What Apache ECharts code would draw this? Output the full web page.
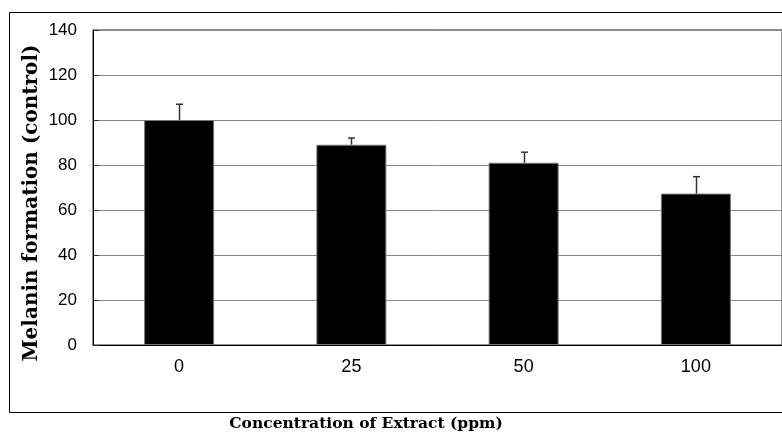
<!DOCTYPE html>
<html>
<head>
<meta charset="utf-8">
<script src="https://cdn.jsdelivr.net/npm/echarts@6/dist/echarts.min.js"></script>
<style>html,body{margin:0;padding:0;background:#fff}#c{width:782px;height:434px}</style>
</head>
<body>
<div id="c"></div>
<script>
const categories = ['0', '25', '50', '100'];
const values = [100, 89, 81, 67.3];
const errors = [7, 3, 4.7, 7.5];
const yTicks = { min: 0, max: 140, interval: 20 };
const yTitle = 'Melanin formation (control)';
const xTitle = 'Concentration of Extract (ppm)';

const chart = echarts.init(document.getElementById('c'));
chart.setOption({
  animation: false,
  backgroundColor: '#fff',
  grid: { left: 93, top: 30, width: 691, height: 315, show: true, borderColor: '#222', borderWidth: 1, containLabel: false },
  xAxis: {
    type: 'category', data: categories,
    axisLine: { lineStyle: { color: '#000', width: 1 } },
    axisTick: { inside: true, length: 5, lineStyle: { color: '#444' } },
    axisLabel: { color: '#000', fontSize: 18, fontFamily: 'Liberation Sans, Arial, sans-serif', margin: 13 },
    splitLine: { show: false }
  },
  yAxis: {
    type: 'value', min: yTicks.min, max: yTicks.max, interval: yTicks.interval,
    axisLine: { show: true, lineStyle: { color: '#000', width: 1 } },
    axisTick: { show: true, inside: true, length: 6, lineStyle: { color: '#333' } },
    axisLabel: { color: '#000', fontSize: 17, fontFamily: 'Liberation Sans, Arial, sans-serif', margin: 16 },
    splitLine: { lineStyle: { color: '#888', width: 1 } }
  },
  graphic: [
    { type: 'rect', left: 7, top: 10, shape: { width: 800, height: 400 }, style: { fill: 'none', stroke: '#000', lineWidth: 1 }, z: -1, silent: true },
    { type: 'text', x: 32, y: 203, rotation: Math.PI / 2, style: { text: yTitle, align: 'center', verticalAlign: 'middle', fill: '#000', font: 'bold 20px "DejaVu Serif", serif' } },
    { type: 'text', x: 366, y: 424, style: { text: xTitle, align: 'center', verticalAlign: 'middle', fill: '#000', font: 'bold 15.5px "DejaVu Serif", serif' } }
  ],
  series: [
    {
      type: 'bar', data: values, barWidth: 70,
      itemStyle: { color: '#000', borderColor: '#777', borderWidth: 1 },
      z: 2
    },
    {
      type: 'custom', z: 3,
      data: values.map((v, i) => [i, v, v + errors[i]]),
      renderItem: function (params, api) {
        const base = api.coord([api.value(0), api.value(1)]);
        const top = api.coord([api.value(0), api.value(2)]);
        const x = Math.round(base[0]) + 0.5;
        return {
          type: 'group',
          children: [
            { type: 'line', shape: { x1: x, y1: base[1], x2: x, y2: top[1] }, style: { stroke: '#333', lineWidth: 1.5 } },
            { type: 'line', shape: { x1: x - 3.5, y1: top[1], x2: x + 3.5, y2: top[1] }, style: { stroke: '#333', lineWidth: 1.5 } }
          ]
        };
      }
    }
  ]
});
</script>
</body>
</html>
